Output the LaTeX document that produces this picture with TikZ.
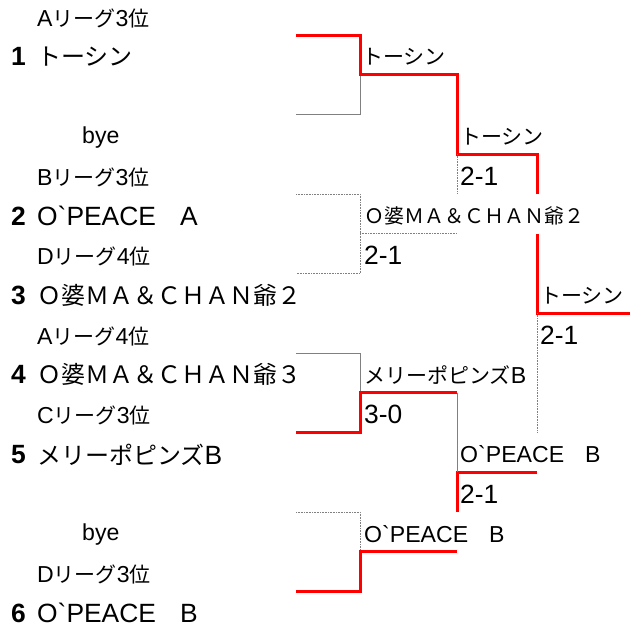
\documentclass[tikz,border=0pt]{standalone}
\usepackage{fontspec}
\newfontfamily\jpfont{Noto Sans CJK JP}
\newfontfamily\latfont{Liberation Sans}[Scale=1.1]
\newcommand{\lat}[1]{{\latfont #1}}
\usepackage{tikz}
\tikzset{
    win/.style={red, line width=3pt},
    lose/.style={gray, line width=0.6pt},
    losedot/.style={gray, line width=0.6pt, densely dotted},
    small/.style={anchor=west, inner sep=0pt, font=\jpfont\fontsize{21}{21}\selectfont},
    team/.style={anchor=west, inner sep=0pt, font=\jpfont\fontsize{24}{24}\selectfont},
    seedno/.style={anchor=west, inner sep=0pt, font=\latfont\bfseries\fontsize{24}{24}\selectfont},
    result/.style={anchor=west, inner sep=0pt, font=\jpfont\fontsize{21}{21}\selectfont},
    score/.style={anchor=west, inner sep=0pt, font=\latfont\fontsize{24}{24}\selectfont}
}

\begin{document}
\begin{tikzpicture}[x=1pt, y=-39.75pt]
    \useasboundingbox (0pt,0pt) rectangle (633pt,-630pt);

    \begin{scope}[yshift=-35pt]
    % Left column: leagues and teams
    \foreach \r/\t in {0/\lat{A}リーグ\lat{3}位, 4/\lat{B}リーグ\lat{3}位, 6/\lat{D}リーグ\lat{4}位, 8/\lat{A}リーグ\lat{4}位, 10/\lat{C}リーグ\lat{3}位, 14/\lat{D}リーグ\lat{3}位} {
        \node[small] (lg\r) at (37,\r-0.42) {\t};
    }
    \foreach \r in {3,13} {
        \node[small] (bye\r) at (82,\r-0.43) {\lat{bye}};
    }
    \foreach \n/\r/\t in {1/1/トーシン, 2/5/\lat{O`PEACE}　\lat{A}, 3/7/Ｏ婆ＭＡ＆ＣＨＡＮ爺２, 4/9/Ｏ婆ＭＡ＆ＣＨＡＮ爺３, 5/11/メリーポピンズ\lat{B}, 6/15/\lat{O`PEACE}　\lat{B}} {
        \node[seedno] (no\n) at (11,\r-0.45) {\n};
        \node[team] (team\n) at (37,\r-0.45) {\t};
    }

    % Line ends of the entries
    \coordinate (s1) at (296,0);
    \coordinate (b1) at (296,2);
    \coordinate (s2) at (296,4);
    \coordinate (s3) at (296,6);
    \coordinate (s4) at (296,8);
    \coordinate (s5) at (296,10);
    \coordinate (b2) at (296,12);
    \coordinate (s6) at (296,14);

    % First round
    \draw[lose] (b1) -| (360,1);
    \draw[losedot] (s2) -| (360,6) -- (s3);
    \draw[losedot] (360,5) -- (457,5);
    \draw[lose] (s4) -| (360,9);
    \draw[losedot] (b2) -| (360,13);

    % Winners
    \draw[win] (s1) -| (360,1) -- (457,1) |- (537,3) -- (537,4);
    \draw[win] (537,5) |- (630,7);
    \draw[win] (s5) -| (360,9) -- (457,9);
    \draw[win] (s6) -| (360,13) -- (457,13);
    \draw[win] (537,11) -- (457,11) -- (457,12);

    % Other lines
    \draw[losedot] (457,3) -- (457,4);
    \draw[lose] (457,9) -- (457,11);
    \draw[losedot] (537,7) -- (537,10);

    % Results
    \node[result] (w1) at (362,0.55) {トーシン};
    \node[result] (w2) at (460,2.55) {トーシン};
    \node[score] (sc2) at (460,3.55) {2-1};
    \node[result, font=\jpfont\fontsize{20}{20}\selectfont] (w3) at (364,4.55) {Ｏ婆ＭＡ＆ＣＨＡＮ爺２};
    \node[score] (sc3) at (364,5.55) {2-1};
    \node[result] (w4) at (540,6.55) {トーシン};
    \node[score] (sc4) at (540,7.55) {2-1};
    \node[result] (w5) at (364,8.55) {メリーポピンズ\lat{B}};
    \node[score] (sc5) at (364,9.55) {3-0};
    \node[result] (w6) at (460,10.55) {\lat{O`PEACE}　\lat{B}};
    \node[score] (sc6) at (460,11.55) {2-1};
    \node[result] (w7) at (364,12.55) {\lat{O`PEACE}　\lat{B}};
    \end{scope}
\end{tikzpicture}
\end{document}
